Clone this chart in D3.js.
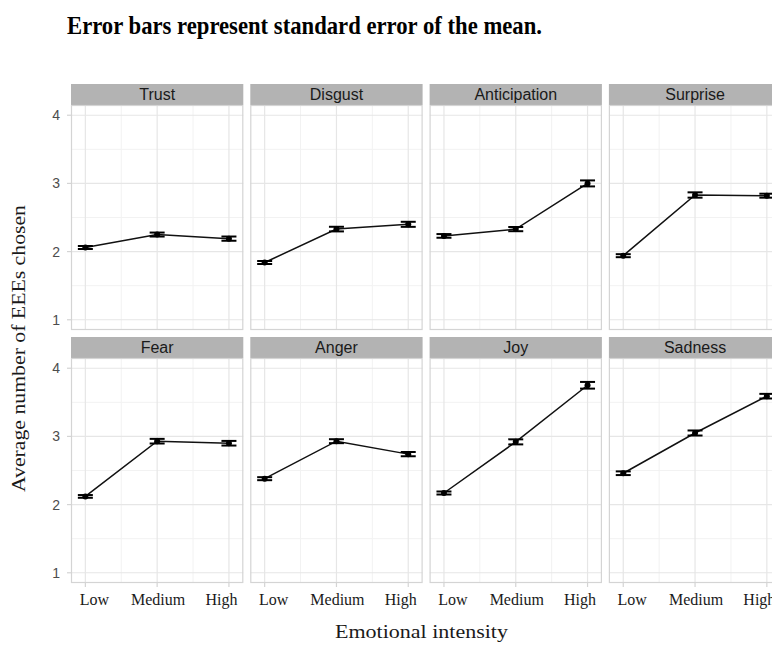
<!DOCTYPE html>
<html>
<head>
<meta charset="utf-8">
<script src="https://cdn.jsdelivr.net/npm/d3@7"></script>
<style>
  html, body { margin: 0; padding: 0; background: #fff; }
  svg { display: block; }
</style>
</head>
<body>
<svg id="chart" width="772" height="659"></svg>
<script>
// Facet panels, in reading order (two rows of four)
const emotions = ["Trust", "Disgust", "Anticipation", "Surprise", "Fear", "Anger", "Joy", "Sadness"];
const levels = ["Low", "Medium", "High"];

// Mean number of EEEs chosen at each intensity level
const meanLow    = [2.06, 1.84, 2.23, 1.94, 2.12, 2.38, 2.17, 2.46];
const meanMedium = [2.25, 2.33, 2.33, 2.83, 2.93, 2.93, 2.92, 3.05];
const meanHigh   = [2.19, 2.40, 3.00, 2.82, 2.90, 2.74, 3.75, 3.59];

// Standard error of the mean
const seLow    = [0.022, 0.022, 0.027, 0.022, 0.020, 0.022, 0.022, 0.027];
const seMedium = [0.029, 0.034, 0.031, 0.039, 0.034, 0.029, 0.037, 0.037];
const seHigh   = [0.031, 0.037, 0.044, 0.029, 0.034, 0.031, 0.049, 0.034];

const yTicks = [1, 2, 3, 4];
const yMinor = [1.5, 2.5, 3.5];
const xMinor = [1.5, 2.5];

const titleText = "Error bars represent standard error of the mean.";
const xTitle = "Emotional intensity";
const yTitle = "Average number of EEEs chosen";

const facets = emotions.map((name, i) => ({
  name,
  points: levels.map((lv, j) => ({
    level: lv,
    pos: j + 1,
    mean: [meanLow, meanMedium, meanHigh][j][i],
    se: [seLow, seMedium, seHigh][j][i]
  }))
}));

// Layout
const svg = d3.select("#chart");
const sans = "'Liberation Sans', Arial, Helvetica, sans-serif";
const serif = "'Palatino Linotype', 'Book Antiqua', Palatino, 'Liberation Serif', serif";

const nCol = 4;
const panelX0 = 71, panelW = 172.3, colStep = 179.3;
const stripH = 21, panelH = 225;
const rowTop = [84, 337];

const x = d3.scaleLinear().domain([0.8, 3.2]).range([0, panelW]);
const y = d3.scaleLinear().domain([0.85, 4.15]).range([panelH, 0]);

const gridMajor = "#e6e6e6", gridMinor = "#f2f2f2", borderCol = "#d4d4d4";

facets.forEach((f, i) => {
  const col = i % nCol, row = Math.floor(i / nCol);
  const gx = panelX0 + col * colStep;
  const gy = rowTop[row];
  const g = svg.append("g").attr("transform", `translate(${gx},${gy})`);

  // strip
  g.append("rect")
    .attr("x", 0).attr("y", 0).attr("width", panelW).attr("height", stripH)
    .attr("fill", "#b3b3b3");
  g.append("text")
    .attr("x", panelW / 2).attr("y", stripH / 2)
    .attr("dy", "0.36em")
    .attr("text-anchor", "middle")
    .attr("font-family", sans).attr("font-size", 16)
    .attr("fill", "#1a1a1a")
    .text(f.name);

  const p = g.append("g").attr("transform", `translate(0,${stripH})`);

  // minor gridlines
  p.selectAll(".ymin").data(yMinor).join("line")
    .attr("x1", 0).attr("x2", panelW)
    .attr("y1", d => y(d)).attr("y2", d => y(d))
    .attr("stroke", gridMinor).attr("stroke-width", 1);
  p.selectAll(".xmin").data(xMinor).join("line")
    .attr("y1", 0).attr("y2", panelH)
    .attr("x1", d => x(d)).attr("x2", d => x(d))
    .attr("stroke", gridMinor).attr("stroke-width", 1);
  // major gridlines
  p.selectAll(".ymaj").data(yTicks).join("line")
    .attr("x1", 0).attr("x2", panelW)
    .attr("y1", d => y(d)).attr("y2", d => y(d))
    .attr("stroke", gridMajor).attr("stroke-width", 1.2);
  p.selectAll(".xmaj").data([1, 2, 3]).join("line")
    .attr("y1", 0).attr("y2", panelH)
    .attr("x1", d => x(d)).attr("x2", d => x(d))
    .attr("stroke", gridMajor).attr("stroke-width", 1.2);

  // panel border
  p.append("rect")
    .attr("x", 0.5).attr("y", 0.5).attr("width", panelW - 1).attr("height", panelH - 1)
    .attr("fill", "none").attr("stroke", borderCol).attr("stroke-width", 1.2);

  // y axis on the left column
  if (col === 0) {
    p.selectAll(".ytick").data(yTicks).join("line")
      .attr("x1", -4).attr("x2", 0)
      .attr("y1", d => y(d)).attr("y2", d => y(d))
      .attr("stroke", borderCol).attr("stroke-width", 1.2);
    p.selectAll(".ylab").data(yTicks).join("text")
      .attr("x", -11).attr("y", d => y(d))
      .attr("dy", "0.36em")
      .attr("text-anchor", "end")
      .attr("font-family", sans).attr("font-size", 14)
      .attr("fill", "#4d4d4d")
      .text(d => d);
  }

  // x axis on the bottom row
  if (row === 1) {
    p.selectAll(".xtick").data([1, 2, 3]).join("line")
      .attr("y1", panelH).attr("y2", panelH + 4)
      .attr("x1", d => x(d)).attr("x2", d => x(d))
      .attr("stroke", borderCol).attr("stroke-width", 1.2);
    const shift = [9, 1, -7.5];
    p.selectAll(".xlab").data(levels).join("text")
      .attr("x", (d, j) => x(j + 1) + shift[j])
      .attr("y", panelH + 22)
      .attr("text-anchor", "middle")
      .attr("font-family", serif).attr("font-size", 16)
      .attr("fill", "#1a1a1a")
      .text(d => d);
  }

  // connecting line
  const line = d3.line().x(d => x(d.pos)).y(d => y(d.mean));
  p.append("path").datum(f.points)
    .attr("d", line)
    .attr("fill", "none").attr("stroke", "#111").attr("stroke-width", 1.5);

  // error bars
  const eb = p.selectAll(".eb").data(f.points).join("g");
  const cap = 7.5;
  eb.append("line")
    .attr("x1", d => x(d.pos)).attr("x2", d => x(d.pos))
    .attr("y1", d => y(d.mean - d.se)).attr("y2", d => y(d.mean + d.se))
    .attr("stroke", "#000").attr("stroke-width", 2.2);
  eb.append("line")
    .attr("x1", d => x(d.pos) - cap).attr("x2", d => x(d.pos) + cap)
    .attr("y1", d => y(d.mean + d.se)).attr("y2", d => y(d.mean + d.se))
    .attr("stroke", "#000").attr("stroke-width", 2);
  eb.append("line")
    .attr("x1", d => x(d.pos) - cap).attr("x2", d => x(d.pos) + cap)
    .attr("y1", d => y(d.mean - d.se)).attr("y2", d => y(d.mean - d.se))
    .attr("stroke", "#000").attr("stroke-width", 2);

  // points
  p.selectAll(".pt").data(f.points).join("circle")
    .attr("cx", d => x(d.pos)).attr("cy", d => y(d.mean))
    .attr("r", 3).attr("fill", "#000");
});

// titles
svg.append("text")
  .attr("x", 67).attr("y", 34)
  .attr("font-family", serif).attr("font-weight", "bold").attr("font-size", 26)
  .attr("textLength", 475).attr("lengthAdjust", "spacingAndGlyphs")
  .attr("fill", "#000")
  .text(titleText);

svg.append("text")
  .attr("x", 421.5).attr("y", 638)
  .attr("text-anchor", "middle")
  .attr("font-family", serif).attr("font-size", 18.5)
  .attr("textLength", 173).attr("lengthAdjust", "spacingAndGlyphs")
  .attr("fill", "#1a1a1a")
  .text(xTitle);

svg.append("text")
  .attr("transform", "translate(25,348.5) rotate(-90)")
  .attr("text-anchor", "middle")
  .attr("font-family", serif).attr("font-size", 18.5)
  .attr("textLength", 287).attr("lengthAdjust", "spacingAndGlyphs")
  .attr("fill", "#1a1a1a")
  .text(yTitle);
</script>
</body>
</html>
